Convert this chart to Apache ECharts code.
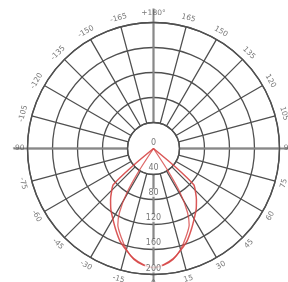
<!DOCTYPE html>
<html>
<head>
<meta charset="utf-8">
<script src="https://cdn.jsdelivr.net/npm/echarts@6/dist/echarts.min.js"></script>
<style>
  html, body { margin: 0; padding: 0; background: #fff; }
  #chart { width: 288px; height: 282px; }
</style>
</head>
<body>
<div id="chart"></div>
<script>
// angle from nadir (deg) and intensity (symmetric both sides)
const outerAngles = [0, 5, 10, 15, 20, 25, 30, 35, 40, 44, 48, 50, 52];
const outerCd = [189, 185, 178, 167, 156, 142, 129, 118, 106, 96, 86, 45, 0];
const innerAngles = [0, 5, 10, 15, 20, 25, 28, 31, 33, 35];
const innerCd = [189, 186, 179, 166, 150, 134, 115, 82, 40, 0];

const radiusTicks = [0, 40, 80, 120, 160, 200];
const angleTicks = [0, 15, 30, 45, 60, 75, 90, 105, 120, 135, 150, 165, 180,
  195, 210, 225, 240, 255, 270, 285, 300, 315, 330, 345];

const CENTER = [153.5, 148.5];
const GRID = '#505050';
const RED = '#d64545';

// build a closed lobe: left side (360 - a) then right side (a)
function lobe(angles, vals) {
  const pts = [];
  for (let i = angles.length - 1; i >= 0; i--) {
    pts.push([vals[i], angles[i] === 0 ? 0 : 360 - angles[i]]);
  }
  for (let i = 1; i < angles.length; i++) {
    pts.push([vals[i], angles[i]]);
  }
  return pts;
}

function signedAngle(a) {
  return a <= 180 ? a : a - 360;
}
function angleText(a) {
  const s = signedAngle(a);
  if (s === 180) return '+180°';
  return String(s);
}
function angleRotate(a) {
  const s = signedAngle(a);
  if (s === 180 || Math.abs(s) === 90) return 0;
  if (Math.abs(s) < 90) return s;
  return s < 0 ? 180 + s : s - 180;
}

const angleBase = {
  type: 'value', min: 0, max: 360, startAngle: 270, clockwise: false,
  axisTick: { show: false }, axisLabel: { show: false }, splitArea: { show: false }
};

const chart = echarts.init(document.getElementById('chart'), null, { renderer: 'canvas' });

chart.setOption({
  backgroundColor: '#ffffff',
  animation: false,
  polar: [
    { center: CENTER, radius: [26, 126] },
    { center: CENTER, radius: [26, 140] },
    { center: CENTER, radius: [0, 126] },
    { center: CENTER, radius: [0, 135] }
  ],
  angleAxis: [
    Object.assign({}, angleBase, {
      polarIndex: 0, interval: 15,
      axisLine: { show: true, lineStyle: { color: GRID, width: 1.4 } },
      splitLine: { show: true, lineStyle: { color: GRID, width: 1.3 } }
    }),
    Object.assign({}, angleBase, {
      polarIndex: 1, interval: 90,
      axisLine: { show: false },
      splitLine: { show: true, lineStyle: { color: '#888888', width: 2 } }
    }),
    Object.assign({}, angleBase, {
      polarIndex: 2, interval: 90,
      axisLine: { show: false }, splitLine: { show: false }
    }),
    Object.assign({}, angleBase, {
      polarIndex: 3, interval: 90,
      axisLine: { show: false }, splitLine: { show: false }
    })
  ],
  radiusAxis: [
    {
      polarIndex: 0, type: 'value', min: 40, max: 200, interval: 40,
      axisLine: { show: false }, axisTick: { show: false }, axisLabel: { show: false },
      splitLine: { show: true, lineStyle: { color: GRID, width: 1.3 } }
    },
    { polarIndex: 1, type: 'value', min: 0, max: 200, show: false },
    { polarIndex: 2, type: 'value', min: 0, max: 200, show: false },
    { polarIndex: 3, type: 'value', min: 0, max: 200, show: false }
  ],
  series: [
    {
      name: 'C0-C180', type: 'line', coordinateSystem: 'polar', polarIndex: 2,
      data: lobe(outerAngles, outerCd), symbol: 'none', smooth: 0.2,
      lineStyle: { color: RED, width: 1.5, opacity: 0.9 }, z: 5
    },
    {
      name: 'C90-C270', type: 'line', coordinateSystem: 'polar', polarIndex: 2,
      data: lobe(innerAngles, innerCd), symbol: 'none', smooth: 0.2,
      lineStyle: { color: RED, width: 1.3, opacity: 0.8 }, z: 5
    },
    {
      type: 'scatter', coordinateSystem: 'polar', polarIndex: 2,
      data: radiusTicks.map(v => [v, 0]),
      symbolSize: 1, itemStyle: { color: 'transparent' }, z: 6,
      label: {
        show: true, position: 'inside', offset: [0, -6],
        formatter: p => String(p.data[0]),
        color: '#555', fontSize: 8, fontFamily: 'DejaVu Sans',
        backgroundColor: '#fff', padding: [0, 1]
      }
    },
    {
      type: 'scatter', coordinateSystem: 'polar', polarIndex: 3,
      data: angleTicks.map(a => ({ value: [200, a], label: { rotate: angleRotate(a) } })),
      symbolSize: 1, itemStyle: { color: 'transparent' }, z: 6,
      label: {
        show: true, position: 'inside',
        formatter: p => angleText(p.data.value[1]),
        color: '#555', fontSize: 7.5, fontFamily: 'DejaVu Sans'
      }
    }
  ]
});
</script>
</body>
</html>
